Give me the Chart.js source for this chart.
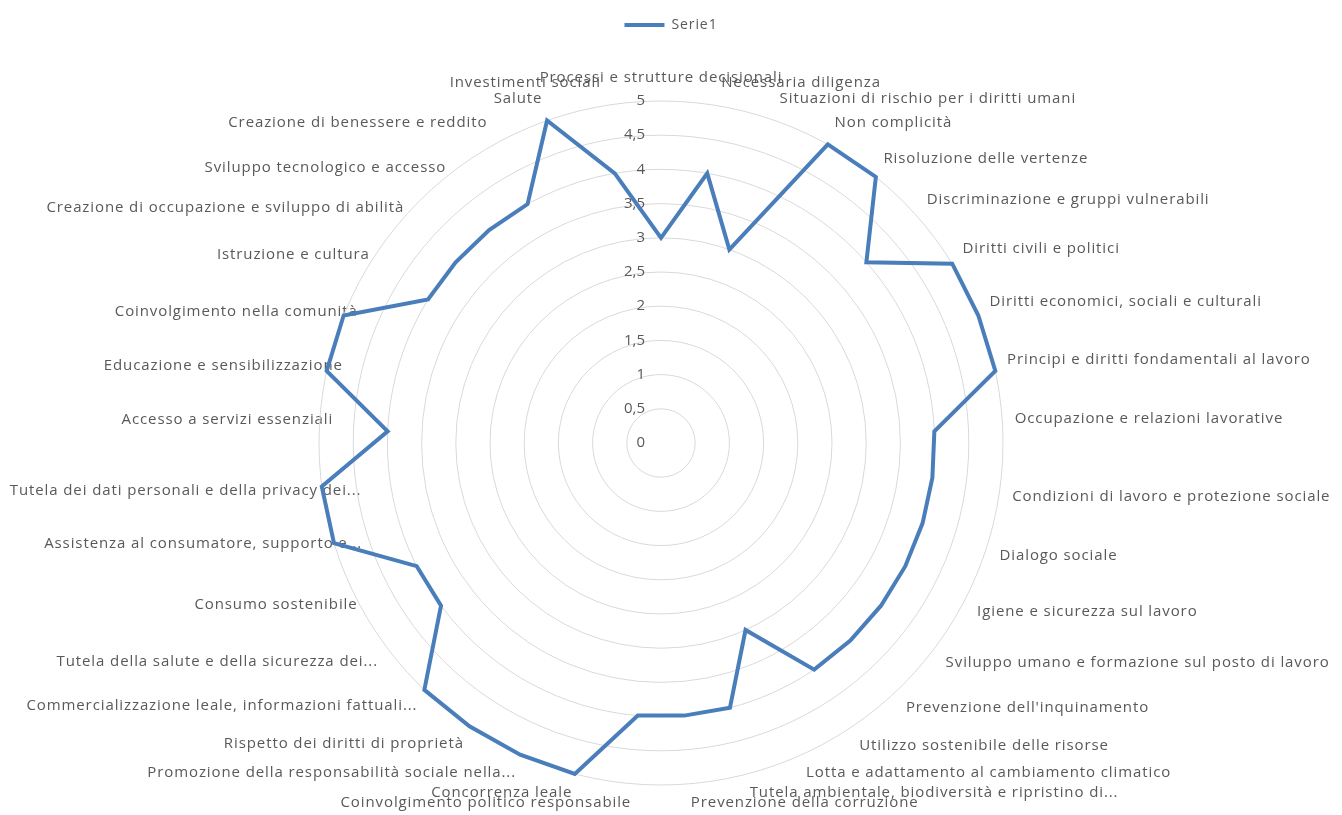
<!DOCTYPE html>
<html>
<head>
<meta charset="utf-8">
<script src="https://cdn.jsdelivr.net/npm/chart.js@4.4.1/dist/chart.umd.min.js"></script>
<style>
  html, body { margin: 0; padding: 0; background: #ffffff; }
  #wrap { width: 1342px; height: 815px; position: relative; }
</style>
</head>
<body>
<div id="wrap"><canvas id="radar-chart"></canvas></div>
<script>
// Categories, clockwise from the top
const categories = [
  'Processi e strutture decisionali',
  'Necessaria diligenza',
  'Situazioni di rischio per i diritti umani',
  'Non complicità',
  'Risoluzione delle vertenze',
  'Discriminazione e gruppi vulnerabili',
  'Diritti civili e politici',
  'Diritti economici, sociali e culturali',
  'Principi e diritti fondamentali al lavoro',
  'Occupazione e relazioni lavorative',
  'Condizioni di lavoro e protezione sociale',
  'Dialogo sociale',
  'Igiene e sicurezza sul lavoro',
  'Sviluppo umano e formazione sul posto di lavoro',
  "Prevenzione dell'inquinamento",
  'Utilizzo sostenibile delle risorse',
  'Lotta e adattamento al cambiamento climatico',
  'Tutela ambientale, biodiversità e ripristino di...',
  'Prevenzione della corruzione',
  'Coinvolgimento politico responsabile',
  'Concorrenza leale',
  'Promozione della responsabilità sociale nella...',
  'Rispetto dei diritti di proprietà',
  'Commercializzazione leale, informazioni fattuali...',
  'Tutela della salute e della sicurezza dei...',
  'Consumo sostenibile',
  'Assistenza al consumatore, supporto e...',
  'Tutela dei dati personali e della privacy dei...',
  'Accesso a servizi essenziali',
  'Educazione e sensibilizzazione',
  'Coinvolgimento nella comunità',
  'Istruzione e cultura',
  'Creazione di occupazione e sviluppo di abilità',
  'Sviluppo tecnologico e accesso',
  'Creazione di benessere e reddito',
  'Salute',
  'Investimenti sociali'
];

const serie1 = [3, 4, 3, 5, 5, 4, 5, 5, 5, 4,
                4, 4, 4, 4, 4, 4, 3, 4, 4, 4,
                5, 5, 5, 5, 4, 4, 5, 5, 4, 5,
                5, 4, 4, 4, 4, 5, 4];

const seriesName = 'Serie1';
const axisMin = 0;
const axisMax = 5;
const axisStep = 0.5;

const textColour = '#595959';
const lineColour = '#4a7ebb';
const fontFamily = "'Open Sans', 'DejaVu Sans', sans-serif";
const textSpacing = '0.9px';

// Excel's text is a little more spread out than Open Sans, so widen it
const spacedText = {
  id: 'spacedText',
  beforeUpdate(chart) { chart.ctx.letterSpacing = textSpacing; },
  beforeLayout(chart) { chart.ctx.letterSpacing = textSpacing; },
  beforeDraw(chart) { chart.ctx.letterSpacing = textSpacing; }
};

// Excel puts the value labels just left of the vertical axis
const tickLabels = {
  id: 'tickLabels',
  beforeDatasetsDraw(chart) {
    const scale = chart.scales.r;
    const ctx = chart.ctx;
    ctx.save();
    ctx.letterSpacing = '0px';
    ctx.font = '15px ' + fontFamily;
    ctx.fillStyle = textColour;
    ctx.textAlign = 'right';
    ctx.textBaseline = 'middle';
    scale.ticks.forEach((tick) => {
      const y = scale.yCenter - scale.getDistanceFromCenterForValue(tick.value);
      ctx.fillText(String(tick.value).replace('.', ','), scale.xCenter - 16, y);
    });
    ctx.restore();
  }
};

// Excel pulls the left hand labels in over the plot (the longer, the deeper)
// and pushes the right hand ones out a bit
labelPadding = function (context) {
  const deg = context.index * 360 / categories.length;
  const rad = deg * Math.PI / 180;
  if (deg >= 235 && deg <= 300) {
    return 3 - 1.3 * (categories[context.index].length - 15);
  }
  if (deg > 300 && deg < 330) return 0;
  if (Math.sin(rad) > 0.5) return 12;
  if (Math.cos(rad) > 0) return 14;
  return 10;
}

var ctx = document.getElementById('radar-chart').getContext('2d');
var radarChart = new Chart(ctx, {
  type: 'radar',
  data: {
    labels: categories,
    datasets: [{
      label: seriesName,
      data: serie1,
      borderColor: lineColour,
      backgroundColor: lineColour,
      borderWidth: 4,
      fill: false,
      pointRadius: 0,
      pointHoverRadius: 0,
      tension: 0
    }]
  },
  plugins: [spacedText, tickLabels],
  options: {
    responsive: true,
    maintainAspectRatio: false,
    animation: false,
    layout: {
      padding: { top: 0, bottom: 0, left: 0, right: 0 }
    },
    scales: {
      r: {
        min: axisMin,
        max: axisMax,
        ticks: {
          stepSize: axisStep,
          display: false
        },
        grid: {
          circular: true,
          color: '#d9d9d9',
          lineWidth: 1
        },
        angleLines: { display: false },
        pointLabels: {
          color: textColour,
          padding: labelPadding,
          font: { family: fontFamily, size: 15 }
        }
      }
    },
    plugins: {
      tooltip: { enabled: false },
      legend: {
        position: 'top',
        display: true,
        labels: {
          color: textColour,
          usePointStyle: true,
          pointStyle: 'line',
          pointStyleWidth: 40,
          boxHeight: 4,
          padding: 18,
          font: { family: fontFamily, size: 14 }
        }
      },
      // empty subtitle under the legend, only used as a spacer
      subtitle: {
        display: true,
        text: '',
        position: 'top',
        weight: 500,
        padding: 0,
        font: { size: 20 }
      }
    }
  }
});
</script>
</body>
</html>
